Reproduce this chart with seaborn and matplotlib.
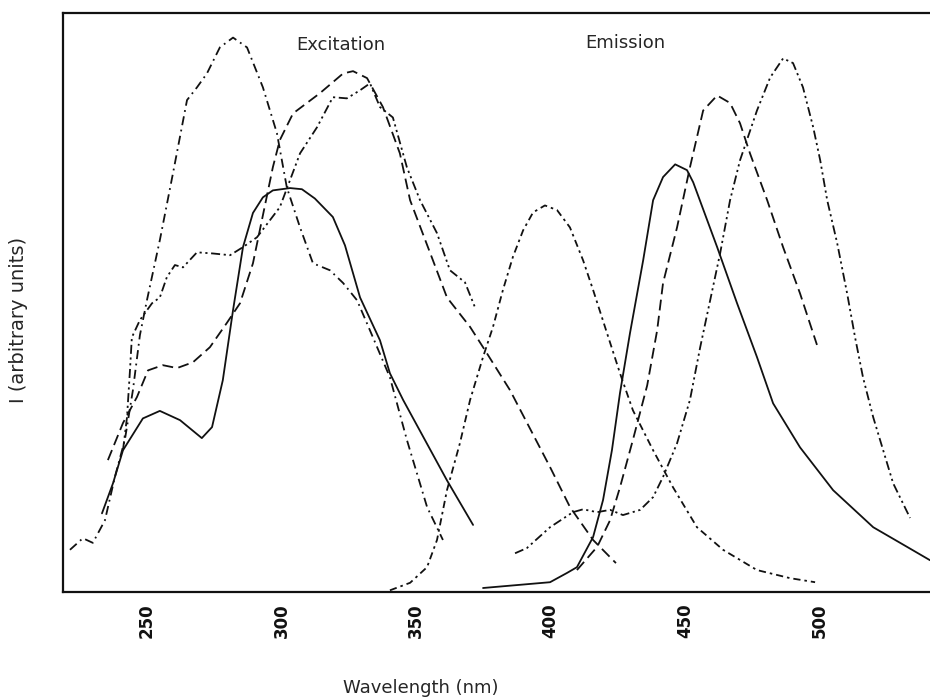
import pandas as pd
import numpy as np
import matplotlib
matplotlib.use('Agg')
import matplotlib.pyplot as plt
import seaborn as sns

# ---------------------------------------------------------------
# Spectra (wavelength in nm, intensity in a.u.)
# ---------------------------------------------------------------
# excitation, solid
exc_solid_nm = [233.3, 237.4, 241.1, 248.5, 254.8, 262.3, 270.4, 274.2, 278.2, 282.0,
                285.7, 289.4, 293.1, 296.8, 303.2, 307.6, 312.4, 319.1, 323.6, 329.2,
                336.6, 340.3, 345.2, 361.5, 371.2]
exc_solid_I = [13.6, 18.8, 24.5, 30.0, 31.3, 29.7, 26.6, 28.5, 36.6, 48.7,
               59.6, 65.5, 68.2, 69.4, 69.8, 69.6, 68.0, 64.8, 59.9, 50.9,
               43.5, 37.8, 33.2, 19.3, 11.6]

# excitation, dashed
exc_dash_nm = [235.5, 241.1, 246.3, 250.4, 255.9, 261.2, 267.1, 273.4, 279.7, 284.6,
               289.4, 293.1, 296.8, 299.4, 304.3, 314.3, 322.9, 326.6, 331.8, 337.7,
               344.0, 347.8, 356.3, 361.5, 370.1, 375.6, 384.9, 399.8, 407.2, 415.8,
               424.3]
exc_dash_I = [22.8, 29.2, 33.7, 38.3, 39.2, 38.7, 39.7, 42.3, 46.5, 49.9,
              56.8, 65.1, 73.4, 78.1, 82.7, 86.2, 89.6, 90.0, 88.8, 83.8,
              75.8, 67.7, 57.3, 50.9, 45.8, 41.8, 34.9, 21.6, 14.7, 9.0,
              5.0]

# excitation, dash-dot (tall band near 282 nm)
exc_dd_nm = [221.4, 226.2, 229.9, 234.4, 238.1, 241.8, 244.8, 247.4, 250.0, 254.8,
             259.7, 264.9, 268.6, 272.3, 277.1, 282.0, 287.2, 293.1, 298.3, 302.0,
             306.9, 311.7, 318.0, 322.9, 328.1, 332.9, 340.3, 346.6, 354.1, 360.0]
exc_dd_I = [7.3, 9.3, 8.5, 12.4, 19.9, 26.3, 34.9, 44.4, 50.4, 60.8,
            72.4, 85.0, 87.2, 89.6, 94.1, 95.8, 94.1, 87.2, 79.3, 69.9,
            63.0, 56.8, 55.6, 53.4, 50.4, 45.2, 37.1, 26.3, 14.7, 9.0]

# excitation, dash-dot-dot
exc_ddd_nm = [241.1, 242.6, 243.7, 244.4, 247.4, 251.9, 254.8, 257.4, 260.4, 263.4,
              268.6, 274.5, 280.9, 285.7, 290.9, 299.4, 303.2, 306.9, 313.2, 319.1,
              324.3, 329.2, 332.9, 336.6, 341.4, 346.6, 351.5, 357.8, 362.6, 368.2,
              371.9]
exc_ddd_I = [24.5, 30.2, 38.3, 44.0, 47.0, 49.9, 50.9, 54.4, 56.5, 56.1,
             58.7, 58.5, 58.2, 59.6, 61.3, 66.5, 71.2, 75.8, 80.3, 85.5,
             85.3, 86.7, 87.9, 83.8, 82.0, 73.4, 67.7, 62.0, 55.6, 53.5,
             49.2]

# emission, dash-dot (band near 398 nm)
em_dd_nm = [340.3, 347.8, 354.1, 357.8, 361.5, 366.3, 370.1, 374.9, 378.6, 382.3,
            386.0, 389.8, 393.5, 397.9, 402.4, 407.2, 412.1, 415.8, 421.0, 425.8,
            430.6, 438.1, 445.5, 454.4, 464.1, 476.7, 489.0, 498.3]
em_dd_I = [0.3, 1.6, 4.3, 9.0, 17.6, 25.7, 33.2, 40.6, 45.8, 52.2,
           57.9, 62.5, 65.6, 66.8, 66.0, 63.0, 57.3, 52.2, 44.7, 37.8,
           31.4, 24.5, 18.1, 11.2, 7.3, 3.8, 2.4, 1.7]

# emission, dash-dot-dot (shoulder near 410 nm, band near 487 nm)
em_ddd_nm = [386.8, 391.2, 399.8, 408.3, 412.1, 417.3, 422.1, 426.9, 433.3, 438.1,
             441.8, 447.0, 451.8, 455.6, 459.3, 463.0, 466.7, 470.4, 476.7, 481.6,
             486.4, 490.1, 493.8, 497.6, 500.2, 502.8, 506.5, 510.2, 513.2, 516.1,
             519.9, 523.6, 527.3, 533.6]
em_ddd_I = [6.7, 7.6, 11.2, 13.8, 14.3, 13.8, 14.2, 13.3, 14.2, 16.4,
            19.9, 25.7, 33.2, 42.3, 50.4, 58.5, 67.7, 74.6, 83.2, 88.9,
            92.2, 91.4, 87.2, 80.3, 74.6, 67.7, 60.3, 51.6, 43.9, 37.1,
            30.2, 24.5, 18.8, 12.8]

# emission, solid
em_solid_nm = [374.9, 399.8, 406.1, 409.8, 415.8, 419.5, 422.8, 425.8, 429.5, 434.4,
               438.1, 441.8, 446.3, 450.7, 453.0, 461.9, 469.3, 476.7, 482.7, 492.7,
               505.0, 519.9, 532.5, 541.0]
em_solid_I = [0.7, 1.7, 3.3, 4.3, 9.5, 15.9, 24.5, 34.4, 44.7, 57.3,
              67.7, 71.7, 73.9, 72.9, 70.8, 59.6, 49.9, 40.6, 32.6, 25.0,
              17.6, 11.2, 7.8, 5.5]

# emission, dashed
em_dash_nm = [409.8, 417.3, 422.1, 425.8, 430.6, 435.9, 439.6, 441.8, 447.0, 451.8,
              456.7, 461.9, 466.7, 470.4, 474.1, 480.5, 486.4, 492.7, 499.0]
em_dash_I = [3.8, 7.8, 12.4, 18.1, 26.3, 35.7, 45.2, 53.4, 63.0, 73.4,
             83.2, 85.8, 84.5, 81.0, 75.8, 67.7, 59.6, 51.6, 42.7]

xticks = [250, 300, 350, 400, 450, 500]

# ---------------------------------------------------------------
# long table for seaborn
# ---------------------------------------------------------------
curves = {
    'exc_solid': (exc_solid_nm, exc_solid_I),
    'exc_dash': (exc_dash_nm, exc_dash_I),
    'exc_dd': (exc_dd_nm, exc_dd_I),
    'exc_ddd': (exc_ddd_nm, exc_ddd_I),
    'em_dd': (em_dd_nm, em_dd_I),
    'em_ddd': (em_ddd_nm, em_ddd_I),
    'em_solid': (em_solid_nm, em_solid_I),
    'em_dash': (em_dash_nm, em_dash_I),
}
frames = []
for name, (nm, inten) in curves.items():
    frames.append(pd.DataFrame({'nm': nm, 'I': inten, 'curve': name}))
df = pd.concat(frames, ignore_index=True)

dash_styles = {
    'exc_solid': '',
    'em_solid': '',
    'exc_dash': (6, 3),
    'em_dash': (6, 3),
    'exc_dd': (5, 2.5, 1, 2.5),
    'em_dd': (4, 2.2, 1.4, 2.2),
    'exc_ddd': (5, 2, 1.2, 2, 1.2, 2),
    'em_ddd': (5, 2, 1.2, 2, 1.2, 2),
}

sns.set_style('white')
plt.rcParams['font.family'] = ['DejaVu Sans']

fig = plt.figure(figsize=(9.3, 6.99), dpi=100)
ax = fig.add_axes([0.0677, 0.153, 0.9323, 0.828])

sns.lineplot(data=df, x='nm', y='I', style='curve', dashes=dash_styles,
             color='#111111', linewidth=1.3, estimator=None, sort=False,
             legend=False, ax=ax)

ax.set_xlim(218.8, 541)
ax.set_ylim(0, 100)
ax.set_xticks(xticks)
ax.set_xticklabels([str(t) for t in xticks], rotation=90, fontsize=12,
                   fontweight='bold')
ax.set_yticks([])
ax.tick_params(axis='x', direction='out', length=4, width=1.2, pad=4,
               colors='#111111')

for side in ['left', 'bottom', 'top']:
    ax.spines[side].set_visible(True)
    ax.spines[side].set_color('#111111')
    ax.spines[side].set_linewidth(1.6)
ax.spines['right'].set_visible(False)

ax.set_xlabel('Wavelength (nm)', fontsize=13, va='center')
ax.xaxis.set_label_coords(0.413, -0.166)
ax.set_ylabel('I (arbitrary units)', fontsize=14, va='center')
ax.yaxis.set_label_coords(-0.051, 0.47)

ax.text(322, 94.5, 'Excitation', fontsize=13, ha='center', va='center')
ax.text(427.7, 94.8, 'Emission', fontsize=13, ha='center', va='center')

fig.savefig('out.png', dpi=100)
